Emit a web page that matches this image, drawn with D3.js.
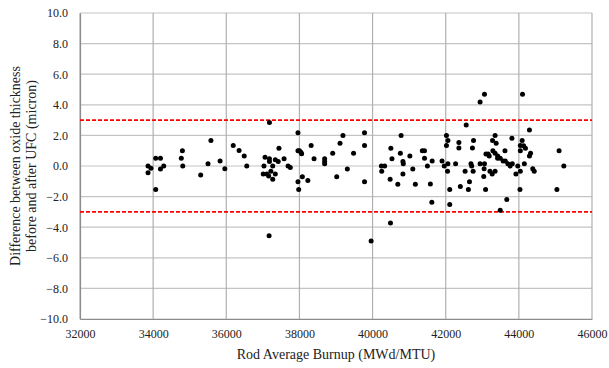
<!DOCTYPE html>
<html>
<head>
<meta charset="utf-8">
<script src="https://cdn.jsdelivr.net/npm/d3@7"></script>
<style>
  body { margin: 0; background: #fff; }
  svg text { font-family: "Liberation Serif", "Times New Roman", serif; fill: #222; }
</style>
</head>
<body>
<div id="chart"></div>
<script>
// burnup (MWd/MTU) for each rod
const burnup = [
  33860, 33940, 33860, 34070, 34200, 34200, 34290, 34070, 34800, 34770, 34810,
  35300, 35500, 35580, 35830, 35960, 36190, 36350, 36490, 36560,
  37180, 37060, 37180, 37180, 37030, 37340, 37420, 37440, 37580, 37690, 37750,
  37270, 37220, 37010, 37110, 37160, 37340, 37270, 37170,
  37960, 37960, 38000, 38040, 38060, 38320, 38400, 38690, 38690, 38690, 38910,
  39110, 39190, 39480, 39310, 39020, 39780, 39780, 39780, 37960, 38080, 38230,
  37980, 39960,
  40240, 40330, 40250, 40500, 40530, 40480, 40690, 40490, 40780, 40760, 40830,
  40840, 40830, 41020, 41100, 41170,
  41360, 41420, 41420, 41500, 41630, 41580, 41620, 41900, 41960, 42020, 42060,
  42020, 42060, 42050, 42110, 42110, 42270, 42360, 42360, 42400, 42530, 42560,
  42650, 42620, 42690, 42710, 42730, 42760, 42750,
  42940, 43060, 43100, 43160, 43190, 42940, 43060, 43050, 43040, 43090, 43280,
  43350, 43380, 43290, 43350, 43420, 43420, 43490, 43620, 43570, 43630, 43210,
  43270, 43350, 43700, 43760, 43820, 43810, 43670, 43490, 43920, 43970,
  44100, 44040, 44040, 44090, 44130, 44180, 44030, 44040, 44150, 44290, 44320,
  44290, 44380, 44420,
  45100, 45230, 45040
];
// oxide thickness difference (micron), same order
const diff = [
  0.0, -0.15, -0.44, 0.5, 0.5, -0.2, 0.0, -1.53, 0.99, 0.5, 0.0,
  -0.59, 0.15, 1.66, 0.33, -0.18, 1.34, 1.01, 0.66, 0.0,
  2.85, 0.57, 0.48, 0.3, 0.0, 0.41, 0.3, 1.16, 0.48, 0.0, -0.1,
  0.0, -0.35, -0.53, -0.53, -0.66, -0.53, -0.86, -4.56,
  2.17, 1.0, 0.99, 0.9, 0.8, 1.34, 0.48, 0.48, 0.3, 0.15, 0.83,
  1.49, 1.99, 0.83, -0.2, -0.7, 2.17, 1.34, -1.03, -1.03, -0.7, -0.94,
  -1.53, -4.9,
  0.0, 0.0, -0.35, 1.16, 0.48, -0.86, -1.2, -3.72, 2.0, 0.83, 0.3,
  0.15, -0.53, 0.66, -0.2, -1.2,
  0.99, 0.99, 0.5, 0.0, 0.33, -1.18, -2.37, 0.33, 0.0, 1.99, 1.66,
  1.34, 0.15, -0.35, -1.53, -2.52, 0.15, 1.53, 1.18, -1.34, -0.35, 2.68,
  -1.03, -1.53, 0.15, 0.0, 1.18, 1.66, -0.35,
  4.19, 4.69, 0.79, 0.79, 0.66, 0.15, 0.15, -0.18, -0.68, -1.53, 1.66,
  1.99, 1.49, 0.99, 0.83, 0.66, 0.5, 0.5, 0.99, 0.33, 0.33, -0.35,
  -0.53, -0.35, 0.15, 0.0, 0.15, 1.82, -2.19, -2.89, -0.53, 0.0,
  4.69, 1.34, 0.99, 1.66, 1.33, 1.16, -1.53, -0.35, 0.15, 2.36, 0.83,
  0.66, -0.18, -0.35,
  0.99, 0.0, -1.53
];
const xTicks = [32000, 34000, 36000, 38000, 40000, 42000, 44000, 46000];
const yTicks = [-10, -8, -6, -4, -2, 0, 2, 4, 6, 8, 10];
const limits = [3, -3];

let W = 609, H = 368;
let margin = { top: 13, right: 17, bottom: 49, left: 80 };
let width = W - margin.left - margin.right;
let height = H - margin.top - margin.bottom;

let svg = d3.select('#chart').append('svg')
    .attr('width', W)
    .attr('height', H);
let g = svg.append('g').attr('transform', 'translate(' + margin.left + ',' + margin.top + ')');

let x = d3.scaleLinear().domain([32000, 46000]).range([0, width]);
let y = d3.scaleLinear().domain([-10, 10]).range([height, 0]);

// grid
g.append('g')
    .selectAll('line')
    .data(yTicks)
    .enter().append('line')
    .attr('x1', 0).attr('x2', width)
    .attr('y1', d => y(d)).attr('y2', d => y(d))
    .attr('stroke', '#c4c4c4')
    .attr('stroke-width', 1.2);
g.append('g')
    .selectAll('line')
    .data(xTicks)
    .enter().append('line')
    .attr('y1', 0).attr('y2', height)
    .attr('x1', d => x(d)).attr('x2', d => x(d))
    .attr('stroke', '#b0b0b0')
    .attr('stroke-width', 1.2);

// axes
let xAxis = g.append('g')
    .attr('transform', 'translate(0,' + height + ')')
    .call(d3.axisBottom(x).tickValues(xTicks).tickFormat(d3.format('d')).tickSize(0).tickPadding(10));
let yAxis = g.append('g')
    .call(d3.axisLeft(y).tickValues(yTicks).tickFormat(d3.format('.1f')).tickSize(0).tickPadding(12));
[xAxis, yAxis].forEach(a => {
    a.attr('font-family', '"Liberation Serif", serif').attr('font-size', 12);
    a.select('.domain').attr('stroke', '#8c8c8c').attr('stroke-width', 1.2);
    a.selectAll('text').attr('fill', '#222');
});

// limit lines
g.selectAll('.limit')
    .data(limits)
    .enter().append('line')
    .attr('class', 'limit')
    .attr('x1', 0).attr('x2', width)
    .attr('y1', d => y(d)).attr('y2', d => y(d))
    .attr('stroke', '#ff0000')
    .attr('stroke-width', 1.6)
    .attr('stroke-dasharray', '4,2');

// points
g.selectAll('.dot')
    .data(burnup.map((b, i) => ({ b: b, d: diff[i] })))
    .enter().append('circle')
    .attr('class', 'dot')
    .attr('cx', d => x(d.b))
    .attr('cy', d => y(d.d))
    .attr('r', 2.5)
    .attr('fill', '#000');

// titles
svg.append('text')
    .attr('x', margin.left + width / 2)
    .attr('y', 359)
    .attr('text-anchor', 'middle')
    .attr('font-size', 14)
    .text('Rod Average Burnup (MWd/MTU)');

let yt = svg.append('text')
    .attr('transform', 'translate(20,' + (margin.top + height / 2) + ') rotate(-90)')
    .attr('text-anchor', 'middle')
    .attr('font-size', 14);
yt.append('tspan').attr('x', 0).attr('y', 0).text('Difference between oxide thickness');
yt.append('tspan').attr('x', 0).attr('y', 16).text('before and after UFC (micron)');
</script>
</body>
</html>
